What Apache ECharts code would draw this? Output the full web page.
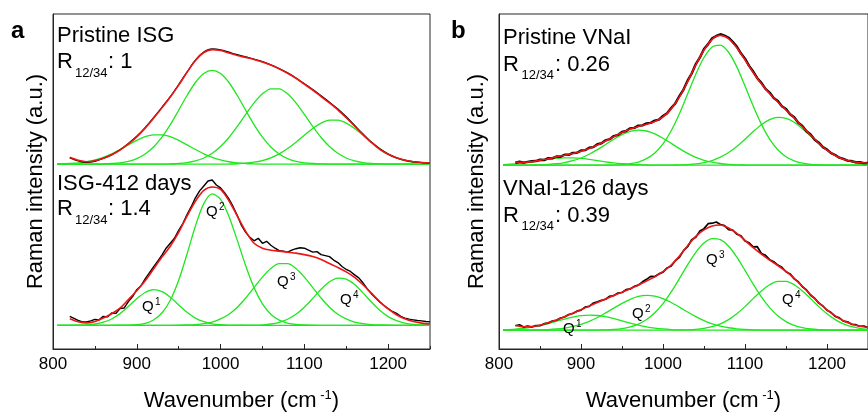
<!DOCTYPE html>
<html><head><meta charset="utf-8">
<script src="https://cdn.jsdelivr.net/npm/echarts/dist/echarts.min.js"></script>
<style>html,body{margin:0;padding:0;background:#fff}#c{width:868px;height:417px}</style>
</head><body><div id="c"></div>
<script>
// ---------- sample positions (cm^-1) ----------
const xGreen = [805,820,830,840,850,860,870,880,890,900,910,920,930,940,950,960,970,980,990,1000,1010,1020,1030,1040,1050,1060,1070,1080,1090,1100,1110,1120,1130,1140,1150,1160,1170,1180,1190,1200,1210,1220,1230,1240,1250];
const xFit = [820,830,840,850,860,870,880,890,900,910,920,930,940,950,960,970,980,990,1000,1010,1020,1030,1040,1050,1060,1070,1080,1090,1100,1110,1120,1130,1140,1150,1160,1170,1180,1190,1200,1210,1220,1230,1240,1250];
const xRaw = [820,825,830,835,840,845,850,855,860,865,870,875,880,885,890,895,900,905,910,915,920,925,930,935,940,945,950,955,960,965,970,975,980,985,990,995,1000,1005,1010,1015,1020,1025,1030,1035,1040,1045,1050,1055,1060,1065,1070,1075,1080,1085,1090,1095,1100,1105,1110,1115,1120,1125,1130,1135,1140,1145,1150,1155,1160,1165,1170,1175,1180,1185,1190,1195,1200,1205,1210,1215,1220,1225,1230,1235,1240,1245,1250];
const xTicks = [800,900,1000,1100,1200];

// ---------- vertical stacking baselines (a.u.) ----------
const offAtop = 187, offAbot = 24, offBtop = 186, offBbot = 19;

// ---------- panel a: Pristine ISG (components at xGreen) ----------
const aTopQ1 = [0.2,0.7,1.3,2.5,4.3,7.0,10.5,14.9,19.6,24.2,27.8,29.7,29.7,27.8,24.2,19.6,14.9,10.5,7.0,4.3,2.5,1.3,0.7,0.3,0.1,0,0,0,0,0,0,0,0,0,0,0,0,0,0,0,0,0,0,0,0];
const aTopQ2 = [0,0,0,0,0.1,0.3,0.7,1.4,2.9,5.7,10.4,17.4,27.3,40,54.6,69.5,82.7,91.8,95,91.8,82.7,69.5,54.6,40,27.3,17.4,10.4,5.7,2.9,1.4,0.7,0.3,0.1,0,0,0,0,0,0,0,0,0,0,0,0];
const aTopQ3 = [0,0,0,0,0,0,0,0,0,0,0,0,0.1,0.4,0.8,1.7,3.4,6.3,11,17.9,27,38.2,50.4,62,71.2,76.3,76.3,71.2,62,50.4,38.2,27,17.9,11,6.3,3.4,1.7,0.8,0.4,0.1,0,0,0,0,0];
const aTopQ4 = [0,0,0,0,0,0,0,0,0,0,0,0,0,0,0,0,0,0,0,0.1,0.2,0.45,1.0,2.0,3.7,6.4,10.4,15.8,22.3,29.4,36.2,41.6,44.6,44.6,41.6,36.2,29.4,22.3,15.8,10.4,6.4,3.7,2.0,1.0,0.45];
const aTopFit = [7,4,2.5,3.5,6,9.5,14.3,20.5,27.7,36.5,46.5,57,68,80,93,105,113,116,115,112.5,110,108,106,103.5,100.5,96.5,92,87,81,75,68.5,62,55,47,38.5,30,22,15,10,6.5,4,2.5,1.8,1.2];
const aTopRaw = [6.5,3.5,2,3,5.8,9.5,14.6,21,28.2,37,47,57.5,68.3,80.5,93.3,105.3,113.4,116.6,115.8,113.3,110.8,108.5,106.3,103.8,100.5,96.8,92.4,87.3,81.5,75.5,69.3,62.8,55.8,48,39.3,30.6,22.4,15.5,10.2,6.5,4,2.5,1.7,1.1];

// ---------- panel a: ISG-412 days ----------
const aBotQ1 = [0,0,0.2,0.5,1.3,3.1,6.4,11.8,19.1,26.9,33.2,36,34.1,28.4,20.6,13.2,7.3,3.6,1.5,0.6,0.2,0.1,0,0,0,0,0,0,0,0,0,0,0,0,0,0,0,0,0,0,0,0,0,0,0];
const aBotQ2 = [0,0,0,0,0,0,0,0.1,0.2,0.7,2.0,5.3,12.4,25.3,45.5,72.1,100.4,123.1,133,127.5,110.2,85.9,60.3,38.1,21.7,11.2,5.2,2.2,0.8,0.3,0.1,0,0,0,0,0,0,0,0,0,0,0,0,0,0];
const aBotQ3 = [0,0,0,0,0,0,0,0,0,0,0,0,0,0,0.1,0.3,0.7,1.6,3.3,6.4,11.2,18.3,27.6,38.2,48.8,57.5,62.4,62.4,57.5,48.8,38.2,27.6,18.3,11.2,6.4,3.3,1.6,0.7,0.3,0.1,0,0,0,0,0];
const aBotQ4 = [0,0,0,0,0,0,0,0,0,0,0,0,0,0,0,0,0,0,0,0,0,0,0.06,0.2,0.5,1.3,3.0,6.1,11.1,18.3,27.2,36.5,44,47.8,46.8,41.3,32.8,23.5,15.2,8.8,4.7,2.2,0.9,0.4,0.1];
const aBotFit = [6.5,3.5,2.3,3.8,7.3,11.7,17.3,26,35,45,57,69,80,94,110.5,125.5,136.5,140,137.5,126,110.5,95,83,78,76,75,74,73,71.5,69.5,66.5,62.5,58.5,54,48.5,41,32.5,24,16.5,10.7,6.5,3.8,2.2,1.3];
const aBotRaw = [9,7,5,3.5,3.3,4.5,6,5.5,9,8.5,
 12.5,12,17,17.5,24,29,36,40,47,53,
 59,65,71,78,83,88,96,103,112,120,
 129,136,141,146,147,142,139,134,128,120,
 111,101,94,89,85.5,88,83,85,81,78,
 75.5,75,74,76,77.5,78.5,78,76,74,74.5,
 71.5,70.5,69.5,66,63.5,59.5,56.5,54.5,51,48,
 43,37,32,27.5,23.5,20,17,14,12,9,
 7.3,6.2,5.5,4.8,4.5,3.8,3.4];

// ---------- panel b: Pristine VNaI ----------
const bTopQ1 = [0.6,1.5,2.3,3.4,4.7,5.9,6.9,7.4,7.4,6.9,5.9,4.7,3.4,2.3,1.5,0.9,0.5,0.2,0.1,0,0,0,0,0,0,0,0,0,0,0,0,0,0,0,0,0,0,0,0,0,0,0,0,0,0];
const bTopQ2 = [0,0,0.1,0.2,0.4,0.8,1.5,2.7,4.5,7.3,11.1,15.7,21,26.3,30.9,34.2,35.5,34.6,31.7,27.3,22.1,16.8,12,8,5,3,1.7,0.9,0.4,0.2,0.1,0,0,0,0,0,0,0,0,0,0,0,0,0,0];
const bTopQ3 = [0,0,0,0,0,0,0,0,0,0,0,0,0.1,0.24,0.6,1.5,3.2,6.6,12.4,21.6,34.8,52,72,92.1,109,119.7,121.6,114.3,99.5,80.2,59.8,41.3,26.4,15.6,8.5,4.3,2.0,0.9,0.4,0.1,0,0,0,0,0];
const bTopQ4 = [0,0,0,0,0,0,0,0,0,0,0,0,0,0,0,0,0,0,0,0,0.1,0.3,0.6,1.3,2.6,4.7,8.1,12.8,19,26.3,34,41,46.1,48.4,47.4,43.4,37,29.4,21.8,15.1,9.8,5.9,3.3,1.7,0.9];
const bTopFit = [3.3,3.0,3.6,5.1,6.6,8.4,10.1,11.9,14.2,17,20.5,24.5,28.8,33,36.6,39.2,41.4,44.2,48.9,57,69.1,84.6,101.4,116.6,127.4,131.4,128,118.9,106.7,93.8,82.3,72.5,64,55.9,47.7,39,30.3,22.2,15.2,9.8,5.9,3.8,2.7,2];
const bTopRaw = [2.5,3.5,2.6,3.4,4.0,4.2,5.5,5.2,7.2,7.0,
 8.8,8.6,10.6,10.5,12.4,12.6,14.8,15.2,17.6,18.3,
 21.2,22.2,25.2,26.3,29.5,30.6,33.6,34.6,37.3,37.8,
 40,40.3,42.3,42.8,45.1,46.1,49.8,52.6,57.8,62.5,
 70,76.5,85.5,92.8,102.3,109,117.5,122.5,128.5,130.8,
 132.5,131.2,129,124.8,120,113.2,107.8,100.5,94.8,88,
 83.3,77.2,73.5,68,65,59.6,56.8,51.5,48.5,43,
 39.8,34.3,31,25.8,22.8,18.3,15.8,12.2,10.3,7.6,
 6.3,4.6,4.2,3.0,3.0,2.1,2.2];

// ---------- panel b: VNaI-126 days ----------
const bBotQ1 = [0.5,1.2,2.0,3.2,4.8,6.8,9.0,11.3,13.3,14.7,15.3,14.9,13.7,11.8,9.5,7.2,5.2,3.5,2.2,1.3,0.7,0.4,0.2,0.1,0,0,0,0,0,0,0,0,0,0,0,0,0,0,0,0,0,0,0,0,0];
const bBotQ2 = [0,0,0.1,0.2,0.3,0.7,1.3,2.2,3.8,6.0,9.0,12.9,17.5,22.4,27.2,31.3,34.2,35.3,34.5,32,28.1,23.4,18.4,13.8,9.7,6.5,4.1,2.5,1.4,0.8,0.4,0.2,0.1,0,0,0,0,0,0,0,0,0,0,0,0];
const bBotQ3 = [0,0,0,0,0,0,0,0,0,0,0,0.2,0.4,0.8,1.7,3.4,6.2,10.8,17.6,26.9,38.7,52.2,66.2,78.8,88.2,92.7,91.6,85,74,60.6,46.6,33.7,22.9,14.6,8.7,4.9,2.6,1.3,0.6,0.3,0.1,0,0,0,0];
const bBotQ4 = [0,0,0,0,0,0,0,0,0,0,0,0,0,0,0,0,0,0,0,0,0.06,0.2,0.4,0.9,1.9,3.6,6.4,10.7,16.6,23.9,32,39.8,46,49.5,49.5,46,39.8,32,23.9,16.6,10.7,6.4,3.6,1.9,0.9];
const bBotFit = [5,3.5,3.6,5.1,7.5,10.3,13.6,17.2,20.8,24.4,28,31.6,35.1,38.5,42,45.8,49.8,54,59.2,66,75,85.5,95,101.5,105.5,106.5,103.5,98,91,83.5,77,71,65.5,59.5,52.5,44.5,36,28,20.5,14.5,9.5,6.2,4,2.8];
const bBotRaw = [4.5,5.5,3.2,4.2,3.3,4.8,4.6,6.6,7.2,9.3,
 10.1,12.4,13.4,15.9,16.9,19.3,20.4,23.4,24.1,27.5,
 28.8,30.2,31.4,34.4,35,37.6,38.2,41,41.8,44.4,
 45.6,49,51.5,54.5,54.3,57,58.8,63,65,70.4,
 73.8,80.5,84.5,91.5,94,100.5,102.8,107.8,108.3,109.5,
 107,105.8,101.8,101.3,97.2,95.6,90.3,88.4,84.3,84.5,
 77.6,75.8,71.4,69.3,65.9,63.7,59.2,57,52,49.1,
 44,40.8,35.4,32.4,27.4,24.5,20.2,17.9,14,12.5,
 9.2,8.5,6,5.6,4,4.2,2.6];

// ---------- texts ----------
const panelLetters = ['a','b'];
const sampleNames = ['Pristine ISG','ISG-412 days','Pristine VNaI','VNaI-126 days'];
const ratioValues = [': 1',': 1.4',': 0.26',': 0.39'];
const ratioSymbol = 'R';
const ratioSub = '12/34';
const qNames = ['1','2','3','4'];
const yTitle = 'Raman intensity (a.u.)';

const FONT = '"Liberation Sans", Arial, Helvetica, sans-serif';
const GREEN = '#1fe61f', RED = '#f01414', BLACK = '#000000', AX = '#262626';

function pts(xs, ys, off) { return xs.map((x, i) => [x, ys[i] + off]); }
function ser(p, xs, ys, off, color, width, z, smooth) {
  return {type:'line', xAxisIndex: p*2, yAxisIndex: p, data: pts(xs, ys, off),
    symbol:'none', showSymbol:false, smooth: smooth,
    lineStyle:{color: color, width: width}, itemStyle:{color: color}, z: z, silent:true, animation:false};
}
const series = [];
[[0,offAtop,[aTopQ1,aTopQ2,aTopQ3,aTopQ4],aTopFit,aTopRaw,xFit,1.3,0.3],
 [0,offAbot,[aBotQ1,aBotQ2,aBotQ3,aBotQ4],aBotFit,aBotRaw,xRaw,1.4,false],
 [1,offBtop,[bTopQ1,bTopQ2,bTopQ3,bTopQ4],bTopFit,bTopRaw,xRaw,2.4,false],
 [1,offBbot,[bBotQ1,bBotQ2,bBotQ3,bBotQ4],bBotFit,bBotRaw,xRaw,1.7,false]].forEach(([p,off,greens,fit,raw,xr,bw,sm])=>{
  greens.forEach(g => series.push(ser(p, xGreen, g, off, GREEN, 1.3, 2, 0.3)));
  series.push(ser(p, xr, raw, off, BLACK, bw, 3, sm));
  series.push(ser(p, xFit, fit, off, RED, 1.6, 4, 0.3));
});

function mainX(g){
  return {gridIndex:g, type:'value', min:800, max:1250, interval:100, position:'bottom',
    axisLine:{show:true, lineStyle:{color:AX, width:1}},
    axisTick:{show:true, inside:true, length:5, lineStyle:{color:AX, width:1}},
    axisLabel:{show:true, fontSize:17, color:'#000', fontFamily:FONT, margin:7, showMaxLabel:false,
      formatter: v => xTicks.indexOf(v) >= 0 ? String(v) : ''},
    splitLine:{show:false},
    name:'{a|Wavenumber (cm}{b| -1}{a|)}', nameLocation:'middle', nameGap:40,
    nameTextStyle:{rich:{a:{fontSize:22, color:'#000', fontFamily:FONT, lineHeight:24},
                         b:{fontSize:13, color:'#000', fontFamily:FONT, verticalAlign:'top', lineHeight:13}}}};
}
function minorX(g){
  return {gridIndex:g, type:'value', min:800, max:1250, interval:50, position:'bottom',
    axisLine:{show:false}, axisTick:{show:true, inside:true, length:3, lineStyle:{color:AX, width:1}},
    axisLabel:{show:false}, splitLine:{show:false}};
}
function mainY(g, gap){
  return {gridIndex:g, type:'value', min:0, max:339, position:'left',
    axisLine:{show:true, lineStyle:{color:AX, width:1}}, axisTick:{show:false}, axisLabel:{show:false},
    splitLine:{show:false}, name:yTitle, nameLocation:'middle', nameRotate:90, nameGap:gap,
    nameTextStyle:{fontSize:22, color:'#000', fontFamily:FONT}};
}

function txt(x, y, text, size, bold){
  return {type:'text', x:x, y:y, silent:true, z:100,
    style:{text:text, fill:'#000', font:(bold?'bold ':'')+size+'px '+FONT,
      verticalAlign:'middle', textVerticalAlign:'middle', align:'left', textAlign:'left'}};
}
const graphics = [];
graphics.push(txt(11, 31.6, panelLetters[0], 24, true));
graphics.push(txt(451, 31.6, panelLetters[1], 24, true));
const lab = [[57,36.3,62.3,73,75,108],[57,184,209,220,75,108],[503,38,64.6,75.5,521.5,555],[503,189,215.6,226.5,521.5,555]];
lab.forEach((L,i)=>{
  graphics.push(txt(L[0], L[1], sampleNames[i], 22));
  graphics.push(txt(L[0], L[2], ratioSymbol, 22));
  graphics.push(txt(L[4], L[3], ratioSub, 13));
  graphics.push(txt(L[5], L[2], ratioValues[i], 22));
});
const qPos = [[142,307],[206,212],[277,282],[340,300],[563,329],[632,314],[706,260],[782,300]];
qPos.forEach((q,i)=>{
  graphics.push(txt(q[0], q[1], 'Q', 15));
  graphics.push(txt(q[0]+13, q[1]-4.5, qNames[i%4], 10));
});

const chart = echarts.init(document.getElementById('c'), null, {renderer:'canvas'});
chart.setOption({
  backgroundColor:'#ffffff',
  animation:false,
  textStyle:{fontFamily:FONT},
  grid:[{left:53, right:438, top:14, bottom:64, show:true, borderColor:AX, borderWidth:1, backgroundColor:'transparent'},
        {left:499, right:-8, top:14, bottom:64, show:true, borderColor:AX, borderWidth:1, backgroundColor:'transparent'}],
  xAxis:[mainX(0), minorX(0), mainX(1), minorX(1)],
  yAxis:[mainY(0, 6), mainY(1, 11)],
  series: series,
  graphic: graphics
});
</script></body></html>
